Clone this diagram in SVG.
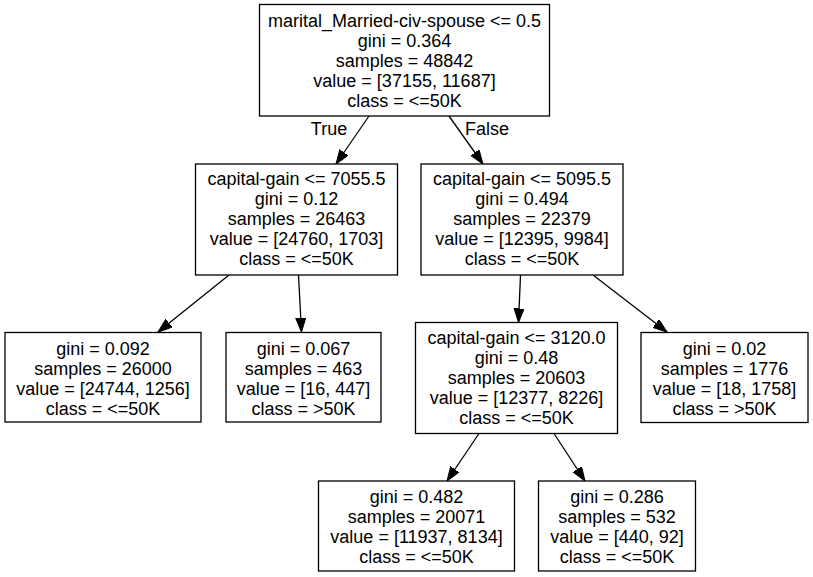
<svg xmlns="http://www.w3.org/2000/svg" width="813" height="577" viewBox="0 0 813 577">
<style>
  .box { fill: #ffffff; stroke: #000000; stroke-width: 1.3; }
  text { font-family: "Liberation Sans", Arial, Helvetica, sans-serif; font-size: 18px; fill: #000000; text-anchor: middle; }
  .edge { stroke: #000000; stroke-width: 1.3; fill: none; marker-end: url(#arrow); }
</style>
<defs>
  <marker id="arrow" markerUnits="userSpaceOnUse" markerWidth="15" markerHeight="11" refX="14" refY="5" orient="auto">
    <path d="M0,0 L14,5 L0,10 Z" fill="#000000" stroke="#000000" stroke-width="1"/>
  </marker>
</defs>
<rect width="813" height="577" fill="#ffffff"/>

<g id="connectors">
  <line class="edge" x1="369" y1="116" x2="336" y2="164"/>
  <line class="edge" x1="449" y1="116" x2="483" y2="164"/>
  <line class="edge" x1="229" y1="275" x2="158" y2="332"/>
  <line class="edge" x1="298.5" y1="275" x2="301.5" y2="332"/>
  <line class="edge" x1="520.5" y1="275" x2="518.5" y2="322.5"/>
  <line class="edge" x1="593" y1="275" x2="667" y2="332"/>
  <line class="edge" x1="479" y1="433.5" x2="447" y2="481"/>
  <line class="edge" x1="554" y1="433.5" x2="585" y2="481"/>
  <text x="329" y="135">True</text>
  <text x="487" y="135">False</text>
</g>

<g id="node0">
  <rect class="box" x="259.5" y="4.5" width="290" height="111.5"/>
  <text x="404.5" y="27">marital_Married-civ-spouse &lt;= 0.5</text>
  <text x="404.5" y="47">gini = 0.364</text>
  <text x="404.5" y="67">samples = 48842</text>
  <text x="404.5" y="87">value = [37155, 11687]</text>
  <text x="404.5" y="107">class = &lt;=50K</text>
</g>

<g id="node1">
  <rect class="box" x="195.5" y="164" width="202" height="111"/>
  <text x="296.5" y="185">capital-gain &lt;= 7055.5</text>
  <text x="296.5" y="205">gini = 0.12</text>
  <text x="296.5" y="225">samples = 26463</text>
  <text x="296.5" y="245">value = [24760, 1703]</text>
  <text x="296.5" y="265">class = &lt;=50K</text>
</g>

<g id="node4">
  <rect class="box" x="421" y="164" width="202" height="111"/>
  <text x="522" y="185">capital-gain &lt;= 5095.5</text>
  <text x="522" y="205">gini = 0.494</text>
  <text x="522" y="225">samples = 22379</text>
  <text x="522" y="245">value = [12395, 9984]</text>
  <text x="522" y="265">class = &lt;=50K</text>
</g>

<g id="node2">
  <rect class="box" x="5" y="332.5" width="196" height="89.5"/>
  <text x="103" y="355">gini = 0.092</text>
  <text x="103" y="375">samples = 26000</text>
  <text x="103" y="395">value = [24744, 1256]</text>
  <text x="103" y="415">class = &lt;=50K</text>
</g>

<g id="node3">
  <rect class="box" x="226" y="332.5" width="155" height="89.5"/>
  <text x="303.5" y="355">gini = 0.067</text>
  <text x="303.5" y="375">samples = 463</text>
  <text x="303.5" y="395">value = [16, 447]</text>
  <text x="303.5" y="415">class = &gt;50K</text>
</g>

<g id="node5">
  <rect class="box" x="415.5" y="322.5" width="202" height="111"/>
  <text x="516.5" y="344">capital-gain &lt;= 3120.0</text>
  <text x="516.5" y="364">gini = 0.48</text>
  <text x="516.5" y="384">samples = 20603</text>
  <text x="516.5" y="404">value = [12377, 8226]</text>
  <text x="516.5" y="424">class = &lt;=50K</text>
</g>

<g id="node8">
  <rect class="box" x="641" y="332.5" width="167" height="90"/>
  <text x="724.5" y="355">gini = 0.02</text>
  <text x="724.5" y="375">samples = 1776</text>
  <text x="724.5" y="395">value = [18, 1758]</text>
  <text x="724.5" y="415">class = &gt;50K</text>
</g>

<g id="node6">
  <rect class="box" x="318.5" y="481" width="196" height="90"/>
  <text x="416.5" y="503">gini = 0.482</text>
  <text x="416.5" y="523">samples = 20071</text>
  <text x="416.5" y="543">value = [11937, 8134]</text>
  <text x="416.5" y="563">class = &lt;=50K</text>
</g>

<g id="node7">
  <rect class="box" x="538.5" y="481" width="157" height="90"/>
  <text x="617" y="503">gini = 0.286</text>
  <text x="617" y="523">samples = 532</text>
  <text x="617" y="543">value = [440, 92]</text>
  <text x="617" y="563">class = &lt;=50K</text>
</g>
</svg>
